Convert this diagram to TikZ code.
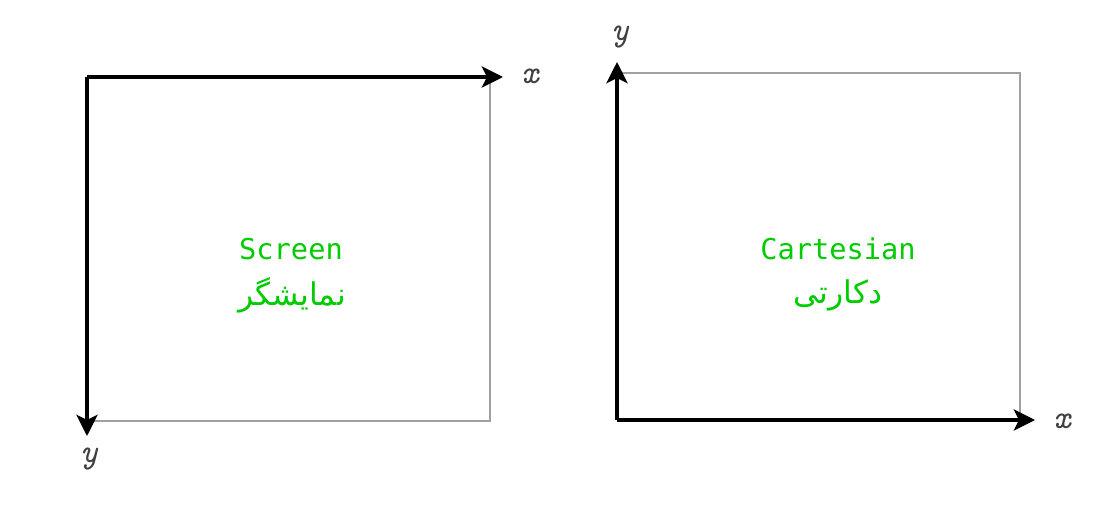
\documentclass[tikz,border=0pt]{standalone}
\usepackage{fontspec}
\usetikzlibrary{arrows.meta}
\TeXXeTstate=1
\newfontfamily\arabicfont[Script=Arabic]{DejaVu Sans}
\newfontfamily\monofont{DejaVu Sans Mono}
\definecolor{lblgreen}{HTML}{00CC00}
\definecolor{edgegray}{HTML}{A0A0A0}
\tikzset{
  axis/.style={line width=2.3pt, black, -{Stealth[length=16pt,width=16pt,inset=4pt]}},
  edge/.style={line width=1.7pt, edgegray},
  lbl/.style={text=lblgreen, font=\monofont\fontsize{21.5}{24}\selectfont, inner sep=0pt},
  albl/.style={text=lblgreen, font=\arabicfont\fontsize{23.5}{26}\selectfont, inner sep=0pt},
  axlbl/.style={font=\ttfamily\itshape\fontsize{25}{27}\selectfont, text=black!75, inner sep=0pt}
}
\begin{document}
\begin{tikzpicture}[x=0.75pt,y=-0.75pt]
\useasboundingbox (0,0) rectangle (1110,507);
% left box
\coordinate (LO) at (87,77);
\coordinate (LX) at (503,77);
\coordinate (LY) at (87,436);
\coordinate (LTR) at (490,77);
\coordinate (LBR) at (490,421);
\coordinate (LBL) at (87,421);
\draw[edge] (LTR) -- (LBR) -- (LBL);
\draw[axis] (LO) -- (LX);
\draw[axis] (LO) -- (LY);
\node[axlbl] (lx) at (530,76) {x};
\node[axlbl] (ly) at (89,459) {y};
\node[lbl] (screen) at (291,249) {Screen};
\node[albl] (screenfa) at (292,295) {\beginR نمایشگر\endR};
% right box
\coordinate (RO) at (617,420);
\coordinate (RX) at (1035,420);
\coordinate (RY) at (617,62);
\coordinate (RTL) at (617,73);
\coordinate (RTR) at (1020,73);
\coordinate (RBR) at (1020,420);
\draw[edge] (RTL) -- (RTR) -- (RBR);
\draw[axis] (RO) -- (RX);
\draw[axis] (RO) -- (RY);
\node[axlbl] (ry) at (620,37) {y};
\node[axlbl] (rx) at (1062,421) {x};
\node[lbl] (cart) at (838,249) {Cartesian};
\node[albl] (cartfa) at (838,295) {\beginR دکارتی\endR};
\end{tikzpicture}
\end{document}
